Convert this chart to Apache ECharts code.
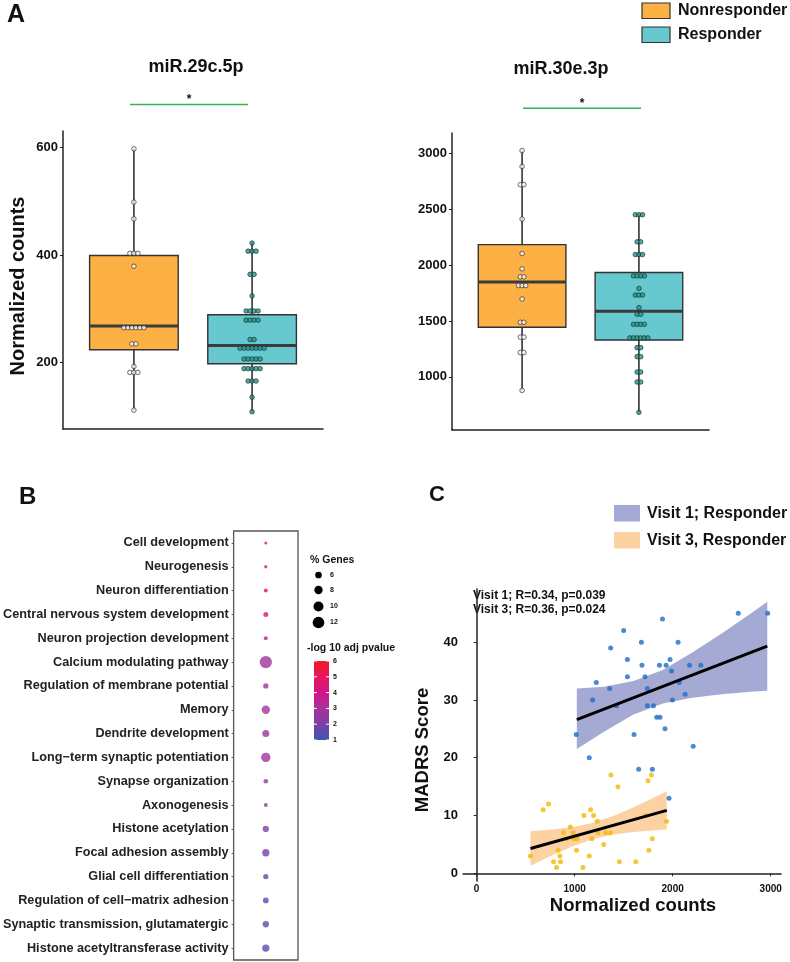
<!DOCTYPE html>
<html><head><meta charset="utf-8">
<script src="https://cdn.jsdelivr.net/npm/echarts@6/dist/echarts.min.js"></script>
<style>html,body{margin:0;padding:0;background:#fff}#c{width:790px;height:962px}</style>
</head><body><div id="c"></div>
<script>
// ---------------- Panel A data ----------------
const groupsA = ['Nonresponder', 'Responder'];
const mir29Non = [597,498,467,403,403,403,379,265,265,265,265,265,265,235,235,193,182,182,182,112];
const mir29Resp = [422,407,407,407,364,364,324,296,296,296,296,279,279,279,279,243,243,227,227,227,227,227,227,227,207,207,207,207,207,189,189,189,189,189,166,166,166,136,109];
const mir29Box = [[112,224,268,399,597],[109,198,232,289,422]]; // min,Q1,median,Q3,max
const mir30Non = [3027,2884,2721,2721,2413,2104,1967,1895,1895,1817,1817,1817,1697,1488,1488,1355,1355,1217,1217,878];
const mir30Resp = [2452,2452,2452,2209,2209,2095,2095,2095,1904,1904,1904,1904,1791,1732,1732,1732,1619,1560,1560,1470,1470,1470,1470,1348,1348,1348,1348,1348,1348,1261,1261,1180,1180,1042,1042,953,953,681];
const mir30Box = [[878,1444,1850,2184,3027],[681,1330,1587,1934,2452]];
const ticksA1 = [200,400,600];
const ticksA2 = [1000,1500,2000,2500,3000];
const titlesA = ['miR.29c.5p','miR.30e.3p'];

// ---------------- Panel B data ----------------
const terms = ['Cell development','Neurogenesis','Neuron differentiation','Central nervous system development','Neuron projection development','Calcium modulating pathway','Regulation of membrane potential','Memory','Dendrite development','Long\u2212term synaptic potentiation','Synapse organization','Axonogenesis','Histone acetylation','Focal adhesion assembly','Glial cell differentiation','Regulation of cell\u2212matrix adhesion','Synaptic transmission, glutamatergic','Histone acetyltransferase activity'];
const pctGenes = [1.6,1.9,2.8,4.0,2.8,12.8,4.3,8.0,6.4,9.2,3.6,2.8,5.5,6.7,4.3,4.8,5.5,6.7];
const logP = [5.4,4.9,4.6,4.2,3.6,2.8,2.8,2.8,2.7,2.8,2.5,2.5,2.1,2.0,1.8,1.55,1.45,1.4];
const sizeLegend = [6,8,10,12];
const colorTicks = [1,2,3,4,5,6];

// ---------------- Panel C data ----------------
const v1X = [1221,1357,1367,1500,1896,1681,2055,1538,1687,1865,1933,1973,1988,2172,2287,1538,1718,2066,1742,2669,2969,1183,1998,1428,1742,1804,2127,1837,1871,1922,1016,1606,2209,1149,1653,1793,1963];
const v1Y = [33,32,39,42,44,40,40,37,36,36,36,37,35,36,36,34,34,33,32,45,45,30,30,29,29,29,31,27,27,25,24,24,22,20,18,18,13];
const v3X = [549,679,733,784,815,832,849,856,887,917,955,985,992,1026,1019,1084,1094,1149,1163,1176,1193,1231,1238,1296,1316,1364,1370,1442,1456,1623,1725,1749,1783,1756,1793,1937];
const v3Y = [3,11,12,2,1,4,3,2,7,6,8,7,6,6,4,1,10,3,11,6,10,9,7,5,7,7,17,15,2,2,10,16,17,4,6,9];
const fitV1 = [[1022,26.6],[2965,39.3]];
const fitV3 = [[549,4.3],[1940,10.9]];
const bandV1X = [1022,1300,1600,1900,2200,2500,2800,2965];
const bandV1Lo = [21.5,24.5,27.5,29.4,30.4,31.0,31.4,31.6];
const bandV1Hi = [32.0,32.3,33.3,35.2,38.2,41.5,45.0,47.0];
const bandV3X = [549,800,1000,1200,1400,1600,1800,1940];
const bandV3Lo = [1.3,3.35,4.82,5.99,6.72,7.15,7.43,7.58];
const bandV3Hi = [7.3,7.63,8.06,8.79,9.96,11.43,13.05,14.2];
const ticksCX = [0,1000,2000,3000];
const ticksCY = [0,10,20,30,40];
const legendC = ['Visit 1; Responder','Visit 3, Responder'];
const statsC = ['Visit 1; R=0.34, p=0.039','Visit 3; R=0.36, p=0.024'];

// ---------------- styling ----------------
const FONT = '"Liberation Sans", Arial, sans-serif';
const boxColors = ['#FDB044', '#67C8D0'];
const dotFill = ['#F4F4F4', '#1C9A8C'];
const bandColors = ['#A5AAD5', '#FDD2A2'];
const pColors = ['#3E55B0','#7B3FA5','#A8329A','#D0168A','#E8155D','#EE1C25'];
const sizeFn = p => 0.83 * p + 1.7;
const plain = v => String(v);

function dotData(vals, xi, spacing) {
  const counts = {}, seen = {};
  vals.forEach(v => counts[v] = (counts[v] || 0) + 1);
  return vals.map(v => {
    const n = counts[v]; const k = seen[v] = (seen[v] === undefined ? 0 : seen[v] + 1);
    return { value: [xi, v], symbolOffset: [(k - (n - 1) / 2) * spacing, 0] };
  });
}
function boxRender(params, api) {
  const x = api.value(0);
  const p = [1,2,3,4,5].map(i => api.coord([x, api.value(i)]));
  const w = api.size([0.75, 0])[0];
  const cx = p[0][0];
  return { type: 'group', children: [
    { type: 'line', shape: { x1: cx, y1: p[0][1], x2: cx, y2: p[4][1] }, style: { stroke: '#333', lineWidth: 1.6 } },
    { type: 'rect', shape: { x: cx - w / 2, y: p[3][1], width: w, height: p[1][1] - p[3][1] }, style: { fill: boxColors[params.dataIndex], stroke: '#333', lineWidth: 1.4 } },
    { type: 'line', shape: { x1: cx - w / 2, y1: p[2][1], x2: cx + w / 2, y2: p[2][1] }, style: { stroke: '#3b3b3b', lineWidth: 3 } }
  ]};
}
function bandRender(xs, lo, hi, color) {
  return function (params, api) {
    if (params.dataIndex !== 0) return null;
    const pts = [];
    for (let i = 0; i < xs.length; i++) pts.push(api.coord([xs[i], hi[i]]));
    for (let i = xs.length - 1; i >= 0; i--) pts.push(api.coord([xs[i], lo[i]]));
    return { type: 'polygon', shape: { points: pts }, style: { fill: color } };
  };
}
const lbl = (size, extra) => Object.assign({ fontFamily: FONT, fontWeight: 'bold', fontSize: size, color: '#111' }, extra || {});
const axLine = { show: true, lineStyle: { color: '#222', width: 1.5 } };

function yValAxis(grid, min, max, ticks, size, margin) {
  return { type: 'value', gridIndex: grid, min, max, splitLine: { show: false }, axisLine: axLine,
    axisTick: { show: true, customValues: ticks, length: 3, lineStyle: { color: '#222' } },
    axisLabel: Object.assign(lbl(size), { customValues: ticks, margin, formatter: plain }) };
}
const xBoxAxis = g => ({ type: 'value', gridIndex: g, min: 0.4, max: 2.6, splitLine: { show: false }, axisLine: axLine, axisTick: { show: false }, axisLabel: { show: false } });

// ---------------- graphics (titles, legends, annotations) ----------------
const T = (x, y, text, font, extra) => ({ type: 'text', x, y, silent: true, style: Object.assign({ text, font, fill: '#111', textVerticalAlign: 'middle' }, extra || {}) });
const graphics = [];
graphics.push(T(7, 15, 'A', 'bold 25px ' + FONT));
graphics.push(T(19, 497, 'B', 'bold 24px ' + FONT));
graphics.push(T(429, 495, 'C', 'bold 22px ' + FONT));
graphics.push(T(196, 67, titlesA[0], 'bold 18px ' + FONT, { textAlign: 'center' }));
graphics.push(T(561, 69, titlesA[1], 'bold 18px ' + FONT, { textAlign: 'center' }));
// significance bars
[[130, 248, 104.5, 189], [523, 641, 108.3, 582]].forEach(s => {
  graphics.push({ type: 'line', silent: true, shape: { x1: s[0], y1: s[2], x2: s[1], y2: s[2] }, style: { stroke: '#2DB84B', lineWidth: 1.5 } });
  graphics.push(T(s[3], s[2] - 5, '*', 'bold 12px ' + FONT, { textAlign: 'center' }));
});
// y axis titles
graphics.push(T(18, 286, 'Normalized counts', 'bold 20px ' + FONT, { textAlign: 'center' }));
graphics[graphics.length - 1].rotation = Math.PI / 2;
graphics.push(T(423, 750, 'MADRS Score', 'bold 18.5px ' + FONT, { textAlign: 'center' }));
graphics[graphics.length - 1].rotation = Math.PI / 2;
graphics.push(T(633, 906, 'Normalized counts', 'bold 18.6px ' + FONT, { textAlign: 'center' }));
// legend A
groupsA.forEach((g, i) => {
  graphics.push({ type: 'rect', silent: true, shape: { x: 642, y: 3 + i * 24, width: 28, height: 15.5 }, style: { fill: boxColors[i], stroke: '#333', lineWidth: 1.2 } });
  graphics.push(T(678, 11 + i * 24, g, 'bold 16px ' + FONT));
});
// legend C
legendC.forEach((g, i) => {
  graphics.push({ type: 'rect', silent: true, shape: { x: 614, y: 505 + i * 27, width: 26, height: 16.5 }, style: { fill: bandColors[i] } });
  graphics.push(T(647, 513.5 + i * 27, g, 'bold 16px ' + FONT));
});
statsC.forEach((s, i) => graphics.push(T(473, 596 + i * 14, s, 'bold 12px ' + FONT)));
// legend B: size
graphics.push(T(310, 560, '% Genes', 'bold 10.5px ' + FONT));
const sizeY = [575, 590, 606.5, 622.5];
sizeLegend.forEach((s, i) => {
  graphics.push({ type: 'circle', silent: true, shape: { cx: 318.5, cy: sizeY[i], r: sizeFn(s) / 2 }, style: { fill: '#000' } });
  graphics.push(T(330, sizeY[i], String(s), 'bold 7px ' + FONT));
});
// legend B: colour bar
graphics.push(T(307, 648.5, '-log 10 adj pvalue', 'bold 10.5px ' + FONT));
const cbTop = 661, cbBot = 740, cbX = 314, cbW = 15;
graphics.push({ type: 'rect', silent: true, shape: { x: cbX, y: cbTop, width: cbW, height: cbBot - cbTop },
  style: { fill: new echarts.graphic.LinearGradient(0, 1, 0, 0, pColors.map((c, i) => ({ offset: i / (pColors.length - 1), color: c }))) } });
colorTicks.forEach(v => {
  const y = cbBot - (v - colorTicks[0]) / (colorTicks[colorTicks.length - 1] - colorTicks[0]) * (cbBot - cbTop);
  graphics.push({ type: 'line', silent: true, shape: { x1: cbX, y1: y, x2: cbX + 3, y2: y }, style: { stroke: '#fff', lineWidth: 1 } });
  graphics.push({ type: 'line', silent: true, shape: { x1: cbX + cbW - 3, y1: y, x2: cbX + cbW, y2: y }, style: { stroke: '#fff', lineWidth: 1 } });
  graphics.push(T(333, y, String(v), 'bold 7px ' + FONT));
});

// ---------------- chart ----------------
const chart = echarts.init(document.getElementById('c'), null, { renderer: 'canvas', width: 790, height: 962 });
chart.setOption({
  animation: false,
  backgroundColor: '#fff',
  grid: [
    { left: 63, top: 131, width: 260, height: 298 },
    { left: 452, top: 133, width: 257, height: 297 },
    { left: 233, top: 531, width: 65, height: 429, show: true, borderColor: '#555', borderWidth: 1.3, backgroundColor: 'transparent' },
    { left: 463, top: 589, width: 318, height: 292 }
  ],
  xAxis: [
    xBoxAxis(0), xBoxAxis(1),
    { type: 'category', gridIndex: 2, data: [''], axisLine: { show: false }, axisTick: { show: false }, axisLabel: { show: false } },
    { type: 'value', gridIndex: 3, min: -139, max: 3105, splitLine: { show: false }, axisLine: axLine,
      axisTick: { show: true, customValues: ticksCX, length: 3, lineStyle: { color: '#222' } },
      axisLabel: Object.assign(lbl(10), { customValues: ticksCX, margin: 3, formatter: plain }) }
  ],
  yAxis: [
    yValAxis(0, 77, 630, ticksA1, 13, 5),
    yValAxis(1, 523, 3184, ticksA2, 13, 5),
    { type: 'category', gridIndex: 2, data: terms, inverse: true, axisLine: { show: false },
      axisTick: { show: true, alignWithLabel: true, length: 2, lineStyle: { color: '#555' } },
      axisLabel: lbl(12.7, { color: '#222', margin: 5 }) },
    yValAxis(3, -1.33, 49.2, ticksCY, 13, 5)
  ],
  visualMap: [{ show: false, type: 'continuous', seriesIndex: 6, dimension: 3, min: 1, max: 6, inRange: { color: pColors } }],
  series: [
    { type: 'custom', xAxisIndex: 0, yAxisIndex: 0, renderItem: boxRender, encode: { x: 0, y: [1,2,3,4,5] }, data: mir29Box.map((b, i) => [i + 1].concat(b)) },
    { type: 'scatter', xAxisIndex: 0, yAxisIndex: 0, symbolSize: 4.6, itemStyle: { color: dotFill[0], borderColor: '#222', borderWidth: 0.8 }, data: dotData(mir29Non, 1, 4) },
    { type: 'scatter', xAxisIndex: 0, yAxisIndex: 0, symbolSize: 4.6, itemStyle: { color: dotFill[1], borderColor: '#222', borderWidth: 0.8 }, data: dotData(mir29Resp, 2, 4) },
    { type: 'custom', xAxisIndex: 1, yAxisIndex: 1, renderItem: boxRender, encode: { x: 0, y: [1,2,3,4,5] }, data: mir30Box.map((b, i) => [i + 1].concat(b)) },
    { type: 'scatter', xAxisIndex: 1, yAxisIndex: 1, symbolSize: 4.6, itemStyle: { color: dotFill[0], borderColor: '#222', borderWidth: 0.8 }, data: dotData(mir30Non, 1, 3.6) },
    { type: 'scatter', xAxisIndex: 1, yAxisIndex: 1, symbolSize: 4.6, itemStyle: { color: dotFill[1], borderColor: '#222', borderWidth: 0.8 }, data: dotData(mir30Resp, 2, 3.6) },
    { type: 'scatter', xAxisIndex: 2, yAxisIndex: 2, symbolSize: v => sizeFn(v[2]), data: terms.map((t, i) => [0, i, pctGenes[i], logP[i]]) },
    { type: 'custom', xAxisIndex: 3, yAxisIndex: 3, renderItem: bandRender(bandV1X, bandV1Lo, bandV1Hi, bandColors[0]), data: bandV1X.map((x, i) => [x, bandV1Lo[i], bandV1Hi[i]]), encode: { x: 0, y: [1, 2] } },
    { type: 'custom', xAxisIndex: 3, yAxisIndex: 3, renderItem: bandRender(bandV3X, bandV3Lo, bandV3Hi, bandColors[1]), data: bandV3X.map((x, i) => [x, bandV3Lo[i], bandV3Hi[i]]), encode: { x: 0, y: [1, 2] } },
    { type: 'line', xAxisIndex: 3, yAxisIndex: 3, showSymbol: false, lineStyle: { color: '#000', width: 3 }, data: fitV1 },
    { type: 'line', xAxisIndex: 3, yAxisIndex: 3, showSymbol: false, lineStyle: { color: '#000', width: 3 }, data: fitV3 },
    { type: 'scatter', xAxisIndex: 3, yAxisIndex: 3, symbolSize: 5, itemStyle: { color: '#1B6EC2' }, data: v1X.map((x, i) => [x, v1Y[i]]) },
    { type: 'scatter', xAxisIndex: 3, yAxisIndex: 3, symbolSize: 5, itemStyle: { color: '#F2B807' }, data: v3X.map((x, i) => [x, v3Y[i]]) }
  ],
  graphic: graphics
});
</script></body></html>
